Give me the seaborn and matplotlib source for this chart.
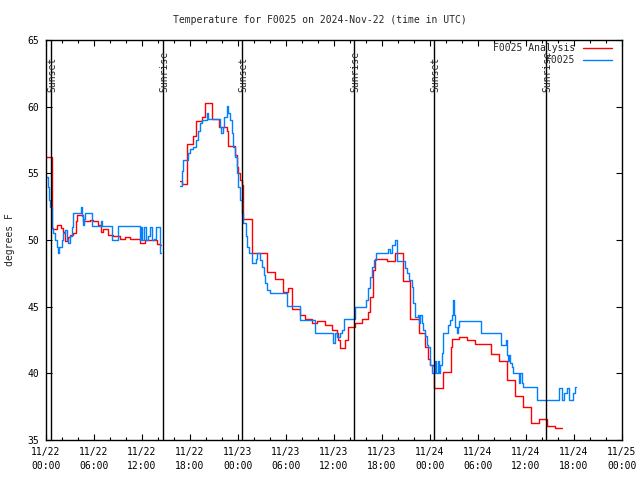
import numpy as np
import pandas as pd
import matplotlib
matplotlib.use('Agg')
import matplotlib.pyplot as plt
from matplotlib.lines import Line2D
import seaborn as sns

# hours since 11/22 00:00 UTC, nan = gap in the record
analysis_hours = [0.0, 0.69, 0.91, 1.34, 1.88, 2.16, 2.38, 2.75, 3.0, 3.41, 3.75, 3.91, 4.66, 5.5, 5.91,
                  6.54, 6.84, 7.16, 7.79, 8.41, 9.25, 9.88, 10.5, 11.75, 12.38, 13.84, 14.25, 14.35,
                  np.nan,
                  16.75, 16.96, 17.59, 18.41, 18.75, 19.46, 19.88, 20.71, 21.66, 22.59, 22.79, 23.63,
                  23.84, 24.04, 24.25, 24.46, 24.66, 25.71, 27.59, 28.63, 29.66, 30.29, 30.71, 31.75,
                  32.38, 33.21, 33.84, 34.88, 35.71, 36.34, 36.56, 36.75, 37.38, 37.79, 38.63, 39.46,
                  40.29, 40.5, 40.84, 41.13, 42.59, 43.6, 44.66, 45.5, 46.66, 47.38, 47.79, 48.0,
                  48.54, 49.66, 50.59, 50.71, 51.66, 52.59, 53.63, 55.59, 56.63, 57.59, 58.63, 59.66,
                  60.63, 61.66, 62.59, 63.63, 64.46]
analysis_temps = [56.2, 50.9, 50.8, 51.1, 50.9, 50.6, 49.9, 50.2, 50.4, 50.5, 51.4, 51.9, 51.4, 51.5, 51.4,
                  51.1, 50.6, 50.8, 50.4, 50.3, 50.1, 50.25, 50.1, 49.8, 50.0, 49.7, 49.6, 49.6,
                  np.nan,
                  54.4, 54.2, 57.2, 57.8, 58.9, 59.25, 60.3, 59.1, 58.5, 58.2, 57.05, 56.4,
                  55.5, 55.0, 54.5, 54.1, 51.6, 49.0, 47.6, 47.1, 46.1, 46.4, 44.8, 44.4,
                  44.1, 43.8, 43.95, 43.6, 43.25, 43.0, 42.5, 41.9, 42.5, 43.5, 43.8, 44.1,
                  44.6, 45.75, 47.75, 48.6, 48.4, 49.05, 46.9, 44.1, 43.0, 42.0, 41.1, 40.6,
                  38.9, 40.1, 42.0, 42.6, 42.75, 42.5, 42.2, 41.45, 40.95, 39.5, 38.3, 37.45,
                  36.3, 36.6, 36.05, 35.9, 35.9]

obs_hours = [0.0, 0.25, 0.38, 0.5, 0.71, 0.88, 1.13, 1.38, 1.54, 1.63, 1.96, 2.13, 2.38, 2.59, 2.75,
             3.0, 3.19, 3.41, 4.34, 4.44, 4.59, 4.75, 4.88, 5.79, 6.88, 6.96, 8.21, 9.04, 11.75,
             11.88, 12.06, 12.31, 12.5, 12.75, 13.0, 13.19, 13.5, 13.75, 14.19, 14.25, 14.35,
             np.nan,
             16.75, 16.94, 17.06, 17.16, 17.75, 18.0, 18.41, 18.75, 19.0, 19.25, 19.46, 20.09,
             20.19, 21.69, 21.84, 22.16, 22.31, 22.59, 22.79, 23.0, 23.19, 23.38, 23.63, 23.88,
             24.06, 24.25, 24.46, 24.66, 24.94, 25.16, 25.38, 25.71, 26.25, 26.41, 26.81, 26.96,
             27.19, 27.38, 27.59, 28.0, 29.25, 30.09, 31.75, 33.63, 35.91, 36.13, 36.34, 36.75,
             36.96, 37.25, 38.63, 40.06, 40.29, 40.5, 40.71, 40.94, 41.25, 42.75, 42.94, 43.21,
             43.63, 43.84, 44.88, 45.09, 45.38, 45.71, 45.88, 46.13, 46.5, 46.63, 46.75, 46.96,
             47.16, 47.38, 47.59, 47.79, 48.0, 48.21, 48.63, 48.75, 48.94, 49.13, 49.31, 49.46,
             49.66, 50.29, 50.5, 50.69, 50.88, 51.0, 51.13, 51.34, 51.5, 51.66, 54.38, 56.84,
             57.5, 57.59, 57.75, 57.88, 58.0, 58.21, 58.41, 59.16, 59.31, 59.44, 59.66, 61.41,
             64.16, 64.46, 64.81, 65.09, 65.41, 65.88, 66.13, 66.2]
obs_temps = [54.75, 54.0, 53.0, 52.5, 50.9, 50.5, 50.0, 49.5, 49.0, 49.5, 50.0, 50.5, 50.75, 50.0, 49.8,
             50.3, 51.0, 52.0, 52.5, 51.8, 51.1, 51.6, 52.0, 51.05, 51.45, 51.05, 50.0, 51.05, 50.0,
             51.0, 50.0, 51.0, 50.0, 50.3, 51.0, 50.0, 50.1, 51.0, 50.3, 49.0, 49.0,
             np.nan,
             54.05, 54.3, 55.2, 56.0, 56.5, 56.8, 57.0, 57.5, 58.2, 58.8, 59.0, 59.55,
             59.05, 58.5, 58.05, 58.5, 59.2, 60.05, 59.5, 59.0, 58.0, 57.0, 56.25, 55.0,
             54.0, 53.0, 52.0, 51.25, 50.3, 49.5, 49.0, 48.25, 48.6, 49.0, 48.5, 48.0,
             47.4, 46.75, 46.25, 46.0, 46.05, 45.05, 44.0, 43.0, 42.25, 43.0, 42.75, 43.0,
             43.25, 44.05, 45.0, 45.5, 46.4, 47.2, 48.0, 48.5, 49.0, 49.3, 49.0, 49.6,
             50.0, 48.4, 47.9, 47.5, 47.0, 46.5, 45.3, 44.25, 44.4, 43.8, 44.4, 43.8,
             43.25, 42.8, 42.1, 42.0, 40.6, 40.0, 40.9, 40.0, 40.9, 40.0, 40.6, 41.5,
             43.0, 43.6, 44.0, 44.4, 45.5, 44.4, 43.5, 43.0, 43.5, 43.95, 43.0, 42.1,
             42.5, 41.4, 40.9, 41.4, 40.8, 40.5, 40.0, 39.25, 40.0, 39.25, 38.95, 38.0,
             38.9, 38.0, 38.5, 38.9, 38.0, 38.5, 38.95, 38.95]

sun_hours = [0.66, 14.6, 24.5, 38.5, 48.5, 62.5]
sun_labels = ['Sunset', 'Sunrise', 'Sunset', 'Sunrise', 'Sunset', 'Sunrise']

tick_hours = list(range(0, 73, 6))
tick_labels = ['11/22\n00:00', '11/22\n06:00', '11/22\n12:00', '11/22\n18:00',
               '11/23\n00:00', '11/23\n06:00', '11/23\n12:00', '11/23\n18:00',
               '11/24\n00:00', '11/24\n06:00', '11/24\n12:00', '11/24\n18:00',
               '11/25\n00:00']

series_names = ['F0025 Analysis', 'F0025']
series_colors = {'F0025 Analysis': '#ff0000', 'F0025': '#0080ff'}


def to_frame(hours, temps, name):
    d = pd.DataFrame({'hour': hours, 'temp': temps})
    d['seg'] = d['hour'].isna().cumsum()
    d = d.dropna()
    d['series'] = name
    d['seg'] = name + '_' + d['seg'].astype(str)
    return d


df = pd.concat([to_frame(analysis_hours, analysis_temps, series_names[0]),
                to_frame(obs_hours, obs_temps, series_names[1])], ignore_index=True)

sns.set_style('ticks')
plt.rcParams['font.family'] = ['DejaVu Sans Mono']
plt.rcParams['font.size'] = 7

fig = plt.figure(figsize=(6.4, 4.8), dpi=100)
ax = fig.add_axes([46 / 640, 40 / 480, 576 / 640, 400 / 480])

sns.lineplot(data=df, x='hour', y='temp', hue='series', hue_order=series_names,
             units='seg', estimator=None, sort=False, palette=series_colors,
             drawstyle='steps-post', linewidth=1.0, legend=False, ax=ax)

for h, lbl in zip(sun_hours, sun_labels):
    ax.axvline(h, color='black', linewidth=1.0)
    ax.text(h + 0.15, 61.1, lbl, rotation=90, ha='center', va='bottom', fontsize=7)

ax.set_xlim(0, 72)
ax.set_ylim(35, 65)
ax.set_xticks(tick_hours)
ax.set_xticklabels(tick_labels, linespacing=1.45)
ax.set_xticks(range(0, 73, 2), minor=True)
ax.set_yticks(range(35, 66, 5))
ax.tick_params(which='both', direction='in', top=True, right=True, width=0.8, labelsize=7, colors='black')
ax.tick_params(which='major', length=4.5)
ax.tick_params(which='minor', length=2.5)
ax.tick_params(axis='y', pad=5)
ax.tick_params(axis='x', pad=5)
for s in ax.spines.values():
    s.set_color('black')
    s.set_linewidth(1.0)
ax.set_xlabel('')
ax.set_ylabel('')

fig.text(10 / 640, 0.5, 'degrees F', rotation=90, ha='center', va='center', fontsize=7)
fig.text(0.5, 1 - 20 / 480, 'Temperature for F0025 on 2024-Nov-22 (time in UTC)',
         ha='center', va='center', fontsize=7)

handles = [Line2D([], [], color=series_colors[n], linewidth=1.0) for n in series_names]
ax.legend(handles, series_names, loc='upper right', bbox_to_anchor=(612 / 640, 1 - 43 / 480),
          bbox_transform=fig.transFigure, frameon=False, markerfirst=False, fontsize=7,
          handlelength=3.0, handletextpad=0.8, labelspacing=0.25, borderpad=0, borderaxespad=0)

fig.savefig('out.png', dpi=100)
